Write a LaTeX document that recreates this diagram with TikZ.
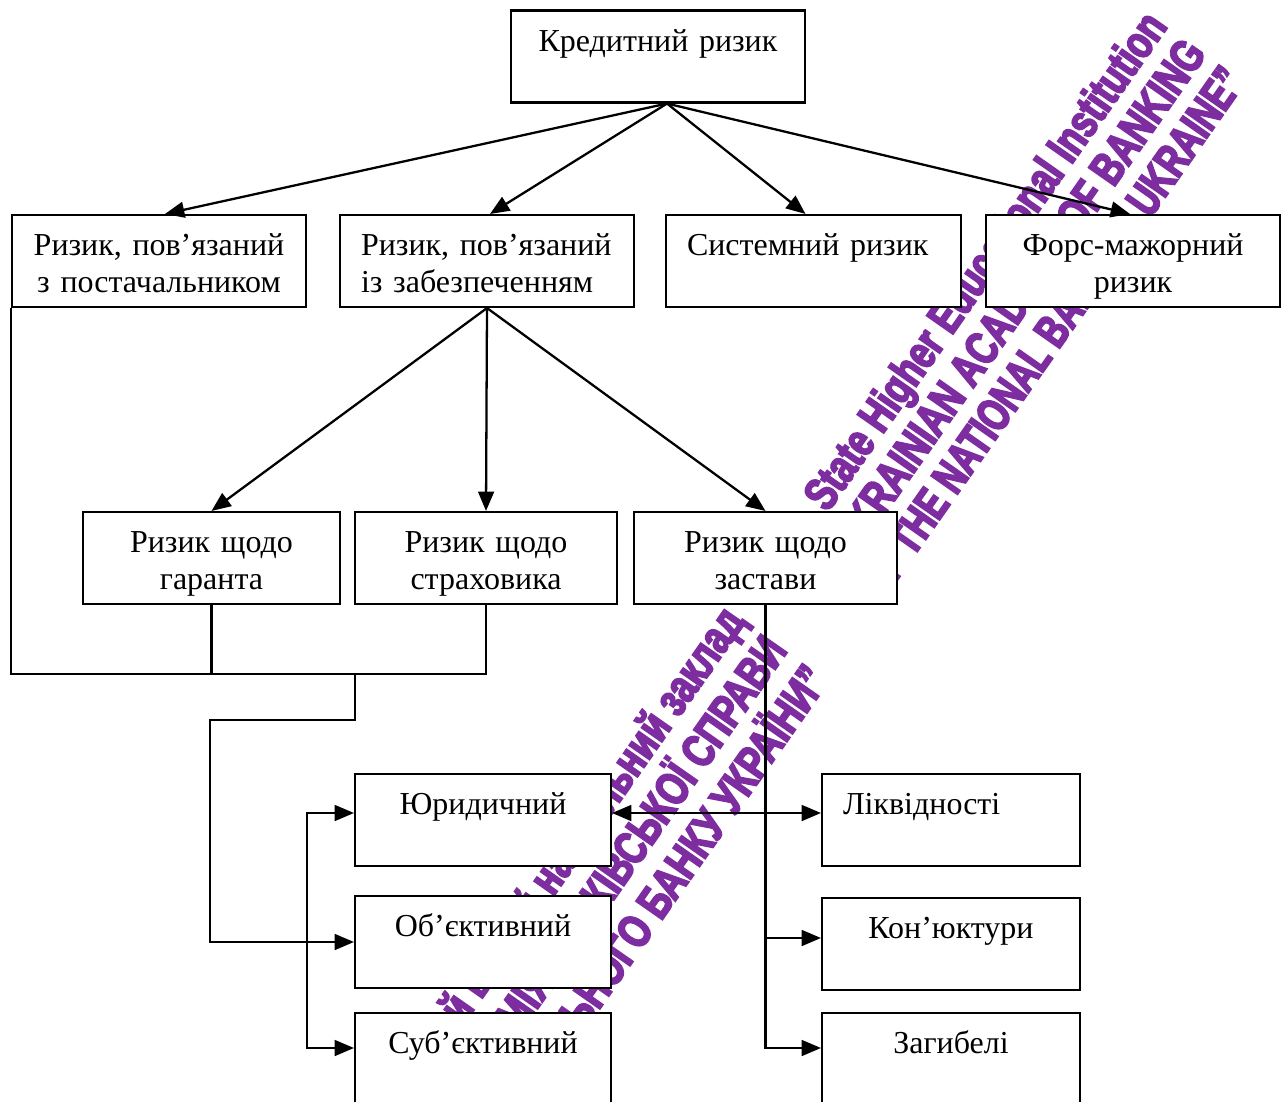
\documentclass[tikz,border=0pt]{standalone}
\usepackage{fontspec}
\setmainfont{Liberation Serif}
\newfontfamily\wmfont[FakeStretch=0.75, FakeBold=4]{Liberation Sans Bold}
\newfontfamily\wmnarrow[FakeStretch=0.71, FakeBold=4]{Liberation Sans Bold}
\usepackage{tikz}
\usetikzlibrary{arrows.meta}
\usetikzlibrary{calc}

\definecolor{wmviolet}{HTML}{7D2DA0}

\tikzset{
  box/.style={draw, fill=white, line width=1.2pt, minimum height=1.84cm,
    inner xsep=0.42cm, inner ysep=0pt, font=\fontsize{18.2}{21}\selectfont,
    execute at begin node=\rule{0pt}{19.3pt},
    execute at end node=\rule[-4.5pt]{0pt}{4.5pt}},
  link/.style={line width=1.3pt},
  arr/.style={link, -{Triangle[length=11pt,width=9pt]}},
  darr/.style={link, {Triangle[length=11pt,width=9pt]}-{Triangle[length=11pt,width=9pt]}},
  wmark/.style={text=wmviolet, rotate=55, anchor=east, align=right, inner sep=0pt,
    font=\wmfont\fontsize{26.6}{27.2}\selectfont}
}

\begin{document}
\begin{tikzpicture}[x=0.02cm, y=-0.02cm]
\useasboundingbox (0,0) rectangle (1286,1102);
\clip (0,0) rectangle (1286,1102);

% watermark, lies under the boxes
\node[wmark] (wmen) at (1194,44) {State Higher Educational Institution\\“UKRAINIAN ACADEMY OF BANKING\\{\wmnarrow OF THE NATIONAL BANK OF UKRAINE”}};
\node[wmark] (wmua) at (778,643) {Державний вищий навчальний заклад\\“УКРАЇНСЬКА АКАДЕМІЯ БАНКІВСЬКОЇ СПРАВИ\\НАЦІОНАЛЬНОГО БАНКУ УКРАЇНИ”};

% top
\node[box, text width=5.04cm, align=center] (kr) at (658,56.5) {Кредитний ризик\\\mbox{}};

% second row
\node[box, text width=5.04cm, align=center] (post) at (159,261) {Ризик, пов’язаний\\з постачальником};
\node[box, text width=5.04cm, align=left] (zab) at (487,261) {Ризик, пов’язаний\\із забезпеченням};
\node[box, text width=5.06cm, align=left] (sys) at (813.5,261) {Системний ризик\\\mbox{}};
\node[box, text width=5.04cm, align=center] (fm) at (1133,261) {Форс-мажорний\\ризик};

% third row
\node[box, text width=4.30cm, align=center] (gar) at (211.5,558) {Ризик щодо\\гаранта};
\node[box, text width=4.40cm, align=center] (str) at (486,558) {Ризик щодо\\страховика};
\node[box, text width=4.42cm, align=center] (zas) at (765.5,558) {Ризик щодо\\застави};

% bottom columns
\node[box, text width=4.28cm, align=center] (yur) at (483,820) {Юридичний\\\mbox{}};
\node[box, text width=4.28cm, align=center] (obj) at (483,942) {Об’єктивний\\\mbox{}};
\node[box, text width=4.28cm, align=center] (sub) at (483,1059) {Суб’єктивний\\\mbox{}};
\node[box, text width=4.32cm, align=left] (liq) at (951,820) {Ліквідності\\\mbox{}};
\node[box, text width=4.32cm, align=center] (kon) at (951,944) {Кон’юктури\\\mbox{}};
\node[box, text width=4.32cm, align=center] (zag) at (951,1059) {Загибелі\\\mbox{}};

% arrows from the top
\coordinate (apex) at ($(kr.south)+(9,0)$);
\draw[arr] (apex) -- ($(post.north)+(6,0)$);
\draw[arr] (apex) -- ($(zab.north)+(3,0)$);
\draw[arr] (apex) -- ($(sys.north)+(-8,0)$);
\draw[arr] (apex) -- ($(fm.north)+(-3,0)$);

\draw[arr] (zab.south) -- (gar.north);
\draw[arr] (zab.south) -- (str.north);
\draw[arr] (zab.south) -- (zas.north);

% joining lines
\coordinate (jn) at (355,674);
\coordinate (bend) at (210,720);
\draw[link] (post.south west) |- (str.south |- jn) -- (str.south);
\draw[link] (gar.south) -- (gar.south |- jn);
\draw[arr] (jn) |- (bend) |- (obj.west);

\coordinate (br) at (307,942);
\draw[arr] (br) |- ($(yur.west)+(0,-7)$);
\draw[arr] (br) |- ($(sub.west)+(0,-11)$);

\draw[arr] (zas.south) |- ($(kon.west)+(0,-6)$);
\draw[arr] (zas.south) |- ($(zag.west)+(0,-11)$);
\draw[darr] ($(yur.east)+(0,-7)$) -- ($(liq.west)+(0,-7)$);
\end{tikzpicture}
\end{document}
